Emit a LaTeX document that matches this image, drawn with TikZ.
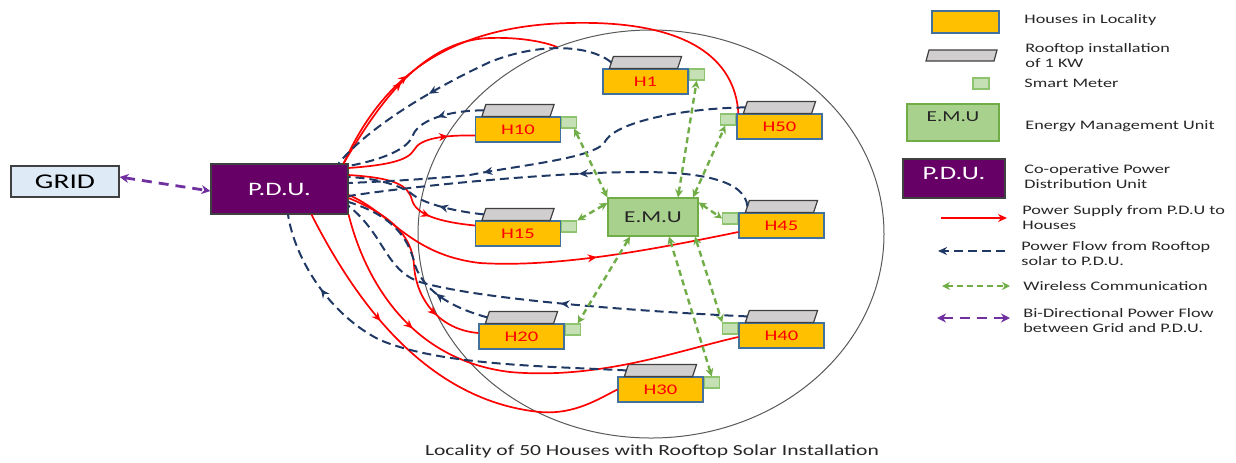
\documentclass[tikz,border=0pt]{standalone}
\usepackage{fontspec}
\setmainfont{Carlito}[FakeStretch=1.4]
\usetikzlibrary{arrows.meta,decorations.markings}
\definecolor{housey}{HTML}{FFC000}
\definecolor{housebd}{HTML}{41719C}
\definecolor{rooffill}{HTML}{D0CECE}
\definecolor{roofbd}{HTML}{404040}
\definecolor{meterfill}{HTML}{C5E0B4}
\definecolor{meterbd}{HTML}{8FC46E}
\definecolor{emufill}{HTML}{A9D18E}
\definecolor{emubd}{HTML}{70AD47}
\definecolor{pdufill}{HTML}{660066}
\definecolor{gridfill}{HTML}{DEEBF7}
\definecolor{pred}{HTML}{FF0000}
\definecolor{navy}{HTML}{203864}
\definecolor{wgreen}{HTML}{70AD47}
\definecolor{bipurple}{HTML}{7030A0}
\definecolor{txt}{HTML}{262626}
\tikzset{
 house/.style={draw=housebd, fill=housey, line width=0.6pt, minimum width=42.5pt, minimum height=12.5pt, inner sep=0pt, text=pred, font=\fontsize{7.35}{8}\selectfont},
 meter/.style={draw=meterbd, fill=meterfill, line width=0.6pt, minimum width=7.5pt, minimum height=5.5pt, inner sep=0pt},
 roofst/.style={draw=roofbd, fill=rooffill, line width=0.6pt},
 pwr/.style={draw=pred, line width=0.85pt},
 flow/.style={draw=navy, line width=1pt, dash pattern=on 4.5pt off 2.5pt},
 wire/.style={draw=wgreen, line width=1.2pt, dash pattern=on 3pt off 2pt, arrows={Stealth[length=4pt,width=4pt]-Stealth[length=4pt,width=4pt]}},
 bidir/.style={draw=bipurple, line width=1.4pt, dash pattern=on 5pt off 3.5pt, arrows={Stealth[length=4.5pt,width=4.5pt]-Stealth[length=4.5pt,width=4.5pt]}},
 midarr/.style={postaction={decorate}, decoration={markings, mark=at position #1 with {\arrow{Stealth[length=4.5pt,width=4pt]}}}},
 legtxt/.style={anchor=west, inner sep=0pt, text=txt, align=left, font=\fontsize{6.5}{7.5}\selectfont},
}
\newcommand{\roofon}[2]{%
 \draw[roofst] ([xshift=3.5pt]#1.north west) -- ([xshift=-5.5pt]#1.north east) -- ([xshift=-3.5pt,yshift=6pt]#1.north east) -- ([xshift=5.5pt,yshift=6pt]#1.north west) -- cycle;
 \coordinate (#2) at ([xshift=4.5pt,yshift=3pt]#1.north west);}
\begin{document}
\begin{tikzpicture}[x=0.5pt,y=-0.5pt]
\useasboundingbox (0,0) rectangle (1236,462);
% locality ellipse
\draw[draw=black!65, line width=0.5pt] (651,234) ellipse [x radius=116.5pt, y radius=102pt];

% main blocks
\node[draw=black!75, fill=gridfill, line width=0.6pt, minimum width=54pt, minimum height=15.5pt, inner sep=0pt, font=\fontsize{10.5}{12}\selectfont] (grid) at (65,181.5) {GRID};
\node[draw=black!75, fill=pdufill, line width=0.6pt, minimum width=68.5pt, minimum height=25pt, inner sep=0pt, text=white, font=\fontsize{9.5}{11}\selectfont] (pdu) at (279.5,189) {P.D.U.};
\node[draw=emubd, fill=emufill, line width=0.6pt, minimum width=45pt, minimum height=19pt, inner sep=0pt, text=txt, font=\fontsize{8.3}{10}\selectfont] (emu) at (653,217) {E.M.U};

% houses
\node[house] (h1) at (645.5,81.5) {H1};
\node[house] (h10) at (518,129.5) {H10};
\node[house] (h15) at (518,233.5) {H15};
\node[house] (h50) at (779.5,126.5) {H50};
\node[house] (h45) at (781.5,225.5) {H45};
\node[house] (h40) at (781.5,335.5) {H40};
\node[house] (h30) at (660.5,389.5) {H30};
\node[house] (h20) at (521.5,336.5) {H20};
\roofon{h1}{r1}
\roofon{h10}{r10}
\roofon{h15}{r15}
\roofon{h50}{r50}
\roofon{h45}{r45}
\roofon{h40}{r40}
\roofon{h30}{r30}
\roofon{h20}{r20}
\node[meter, anchor=north west] (m1) at (h1.north east) {};
\node[meter, anchor=north west] (m10) at (h10.north east) {};
\node[meter, anchor=north west] (m15) at (h15.north east) {};
\node[meter, anchor=north west] (m20) at (h20.north east) {};
\node[meter, anchor=north west] (m30) at (h30.north east) {};
\node[meter, anchor=north east] (m50) at (h50.north west) {};
\node[meter, anchor=north east] (m45) at (h45.north west) {};
\node[meter, anchor=north east] (m40) at (h40.north west) {};

% power supply (red)
\coordinate (redend) at (557,47);
\draw[pwr, midarr=0.22] ([xshift=-2.5pt]pdu.north east) .. controls (375,95) and (430,26) .. (570,23) .. controls (690,20) and (735,60) .. ([xshift=1pt]h50.north west);
\draw[pwr, midarr=0.37] ([xshift=-2.5pt]pdu.north east) .. controls (375,110) and (420,40) .. (490,38) .. controls (520,37) and (545,42) .. (redend);
\draw[pwr, midarr=0.8] ([yshift=10.5pt]pdu.east) .. controls (390,165) and (408,160) .. (414,150) .. controls (420,138) and (445,135) .. ([yshift=-3pt]h10.west);
\draw[pwr, midarr=0.68] ([yshift=7pt]pdu.east) .. controls (395,178) and (408,185) .. (412,200) .. controls (416,215) and (440,222) .. ([yshift=4pt]h15.west);
\draw[pwr, midarr=0.65] ([yshift=-3pt]pdu.east) .. controls (390,212) and (410,255) .. (480,263) .. controls (560,268) and (660,248) .. ([yshift=-3.25pt]h45.west);
\draw[pwr, midarr=0.77] ([yshift=-4.5pt]pdu.east) .. controls (390,215) and (412,235) .. (414,265) .. controls (416,300) and (440,330) .. ([yshift=1.75pt]h20.west);
\draw[pwr, midarr=0.32] ([xshift=16pt]pdu.south) .. controls (350,290) and (420,400) .. (540,412) .. controls (575,415) and (600,398) .. (h30.west);
\draw[pwr, midarr=0.28] (pdu.south east) .. controls (365,280) and (410,360) .. (510,372) .. controls (600,380) and (680,350) .. ([yshift=-0.75pt]h40.west);

% rooftop power flow (navy)
\draw[flow, midarr=0.63] (r1) .. controls (590,45) and (540,42) .. (490,62) .. controls (440,85) and (370,125) .. ([xshift=-5pt]pdu.north east);
\draw[flow, midarr=0.31] (r10) .. controls (455,110) and (420,118) .. (413,135) .. controls (408,150) and (380,160) .. ([yshift=11.5pt]pdu.east);
\draw[flow, midarr=0.67] (r50) .. controls (690,108) and (620,120) .. (606,140) .. controls (600,158) and (520,165) .. (470,175) .. controls (420,180) and (370,182) .. ([yshift=3pt]pdu.east);
\draw[flow, midarr=0.44] (r45) .. controls (745,180) and (700,172) .. (640,172) .. controls (560,172) and (420,185) .. ([yshift=-3.5pt]pdu.east);
\draw[flow, midarr=0.32] (r15) .. controls (460,212) and (425,205) .. (412,194) .. controls (400,185) and (375,178) .. ([yshift=6pt]pdu.east);
\draw[flow, midarr=0.43] (r40) .. controls (650,312) and (480,300) .. (420,282) .. controls (385,270) and (385,235) .. ([yshift=-8.5pt]pdu.east);
\draw[flow, midarr=0.3] (r20) .. controls (460,310) and (425,295) .. (415,265) .. controls (408,235) and (390,215) .. ([yshift=-6.5pt]pdu.east);
\draw[flow, midarr=0.8] (r30) .. controls (540,366) and (440,365) .. (380,340) .. controls (330,315) and (295,260) .. ([xshift=4.25pt]pdu.south);

% wireless (green)
\draw[wire] (emu.north west) -- ([xshift=2.5pt]m10.south);
\draw[wire] ([yshift=7pt]emu.west) -- (m15.north east);
\draw[wire] ([xshift=12.5pt]emu.north) -- (m1.south);
\draw[wire] ([xshift=20pt]emu.north) -- ([xshift=-1.5pt]m50.south);
\draw[wire] ([yshift=-2.5pt]emu.north east) -- (m45.west);
\draw[wire] ([xshift=-11.5pt]emu.south) -- ([xshift=2.5pt]m20.north);
\draw[wire] ([xshift=8pt]emu.south) -- (m30.north);
\draw[wire] ([xshift=21pt]emu.south) -- (m40.north west);

% grid <-> pdu
\draw[bidir] ([yshift=2.25pt]grid.east) -- ([yshift=-1pt]pdu.west);

% caption
\node[inner sep=0pt, text=txt, font=\fontsize{7.7}{8.5}\selectfont] (cap) at (652,451) {Locality of 50 Houses with Rooftop Solar Installation};

% legend
\node[draw=housebd, fill=housey, line width=0.6pt, minimum width=33.5pt, minimum height=11pt, inner sep=0pt] (lh) at (965.5,22) {};
\node[legtxt] (lht) at (1024,20) {Houses in Locality};
\draw[roofst] (926,61) -- (994,61) -- (997,50) -- (929,50) -- cycle;
\node[legtxt] (lrt) at (1025,55.5) {Rooftop installation\\of 1 KW};
\node[meter, minimum width=8pt] (lm) at (981,83.5) {};
\node[legtxt] (lmt) at (1024,83) {Smart Meter};
\node[draw=emubd, fill=emufill, line width=0.6pt, minimum width=46pt, minimum height=18.5pt, inner sep=0pt] (le) at (953,122.5) {};
\node[inner sep=0pt, text=txt, font=\fontsize{7.6}{9}\selectfont] (let) at (953,117) {E.M.U};
\node[legtxt] (lemt) at (1025,126) {Energy Management Unit};
\node[draw=black!75, fill=pdufill, line width=0.6pt, minimum width=51pt, minimum height=19.5pt, inner sep=0pt] (lp) at (954,178.5) {};
\node[inner sep=0pt, text=white, font=\fontsize{9.5}{11}\selectfont] (lpt) at (954,173) {P.D.U.};
\node[legtxt] (lpdt) at (1024,177) {Co-operative Power\\Distribution Unit};
\coordinate (la1) at (941,218); \coordinate (lb1) at (1007,218);
\draw[pwr, -{Stealth[length=4.5pt,width=4pt]}] (la1) -- (lb1);
\node[legtxt] (lpst) at (1022,218) {Power Supply from P.D.U to\\Houses};
\coordinate (la2) at (1005,251); \coordinate (lb2) at (938,251);
\draw[flow, -{Stealth[length=4.5pt,width=4pt]}] (la2) -- (lb2);
\node[legtxt] (lpft) at (1021,253.5) {Power Flow from Rooftop\\solar to P.D.U.};
\coordinate (la3) at (942,286); \coordinate (lb3) at (1010,286);
\draw[wire] (la3) -- (lb3);
\node[legtxt] (lwt) at (1023,286) {Wireless Communication};
\coordinate (la4) at (937,318); \coordinate (lb4) at (1010,318);
\draw[bidir] (la4) -- (lb4);
\node[legtxt] (lbt) at (1023,320.5) {Bi-Directional Power Flow\\between Grid and P.D.U.};
\end{tikzpicture}
\end{document}
